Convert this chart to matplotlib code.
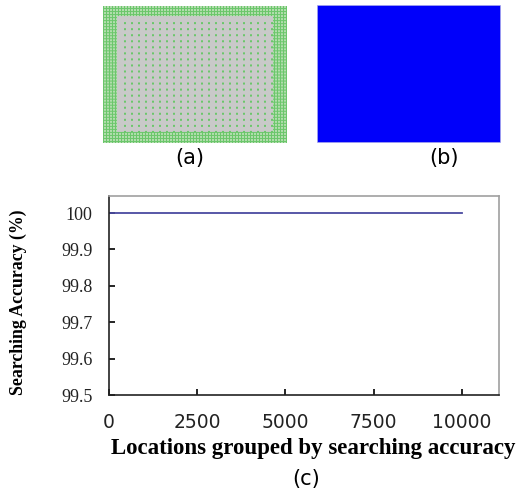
import numpy as np
import matplotlib
matplotlib.use("Agg")
import matplotlib.pyplot as plt
from matplotlib.patches import Rectangle

# Searching accuracy per location group
locations = [0, 10000]
accuracy = [100.0, 100.0]

x_ticks = [0, 2500, 5000, 7500, 10000]
y_ticks = [99.5, 99.6, 99.7, 99.8, 99.9, 100.0]
y_ticklabels = ["99.5", "99.6", "99.7", "99.8", "99.9", "100"]

W, H = 518, 490
fig = plt.figure(figsize=(W / 100, H / 100), dpi=100)


def px_axes(x0, y0, x1, y1):
    return fig.add_axes([x0 / W, 1 - y1 / H, (x1 - x0) / W, (y1 - y0) / H])


# (a) deployment grid: dense border, sparse lattice inside
ax_a = px_axes(103, 6, 287, 143)
nx, ny = 184, 137
img = np.ones((ny, nx, 3)) * np.array([0.79, 0.79, 0.79])
green = np.array([0.42, 0.78, 0.42])
light = np.array([0.70, 0.87, 0.68])
border = 14
yy, xx = np.mgrid[0:ny, 0:nx]
in_border = (xx < border) | (xx >= nx - border) | (yy < 11) | (yy >= ny - 11)
mesh = in_border & ((xx % 3 == 0) | (yy % 3 == 0))
img[in_border] = light
img[mesh] = green
dots = (~in_border) & ((xx - border) % 7 < 2) & ((yy - 11) % 6 < 2) \
    & (xx > border + 2) & (yy > 13)
img[dots] = green
ax_a.imshow(img, interpolation="bilinear", aspect="auto")
ax_a.axis("off")
fig.text(190 / W, 1 - 158 / H, "(a)", ha="center", va="center",
         fontsize=15, family="DejaVu Sans")

# (b) full coverage
ax_b = px_axes(317, 5, 501, 143)
ax_b.add_patch(Rectangle((0, 0), 1, 1, facecolor="#0000fa",
                         edgecolor="#b8b8f0", linewidth=1.2))
ax_b.set_xlim(0, 1)
ax_b.set_ylim(0, 1)
ax_b.axis("off")
fig.text(444 / W, 1 - 158 / H, "(b)", ha="center", va="center",
         fontsize=15, family="DejaVu Sans")

# (c) searching accuracy
ax = px_axes(109, 196, 499, 395)
ax.plot(locations, accuracy, color="#4a4aa0", linewidth=1.3)
ax.set_xlim(0, 11050)
ax.set_ylim(99.5, 100.047)
ax.set_xticks(x_ticks)
ax.set_xticklabels([str(v) for v in x_ticks], family="DejaVu Sans",
                   fontsize=13.5, color="#222222")
ax.set_yticks(y_ticks)
ax.set_yticklabels(y_ticklabels, family="Liberation Serif", fontsize=13,
                   color="#222222")
ax.tick_params(axis="x", direction="in", length=4, width=1.2, pad=13)
ax.tick_params(axis="y", direction="in", length=4, width=1.2, pad=12)
for side in ("left", "bottom"):
    ax.spines[side].set_color("#222222")
    ax.spines[side].set_linewidth(1.2)
for side in ("top", "right"):
    ax.spines[side].set_color("#a0a0a0")
    ax.spines[side].set_linewidth(1.2)
ax.set_xlabel("Locations grouped by searching accuracy", family="Liberation Serif",
              fontweight="bold", fontsize=16.5)
ax.xaxis.set_label_coords((313.5 - 109) / 390, -(448 - 395) / 199)
ax.xaxis.label.set_va("center")
ax.set_ylabel("Searching Accuracy (%)", family="Liberation Serif",
              fontweight="bold", fontsize=12.8)
ax.yaxis.set_label_coords(-(109 - 18) / 390, (395 - 302) / 199)
ax.yaxis.label.set_va("center")
fig.text(306 / W, 1 - 479 / H, "(c)", ha="center", va="center",
         fontsize=15, family="DejaVu Sans")

fig.savefig("out.png", dpi=100)
